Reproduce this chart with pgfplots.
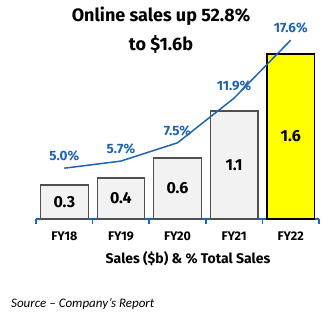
\documentclass[border=0pt]{standalone}
\usepackage{pgfplots}
\pgfplotsset{compat=1.18}
\usepackage{pgfplotstable}
\usepackage{fontspec}
\setmainfont{Fira Sans}
\newfontfamily\srcfont{Carlito}
\definecolor{lineblue}{HTML}{1F64B0}
\definecolor{barfill}{HTML}{F2F2F2}
\definecolor{baredge}{HTML}{505050}
\definecolor{hl}{HTML}{FFFF00}

\pgfplotstableread{
x y label
0 0.34 0.3
1 0.41 0.4
2 0.61 0.6
3 1.08 1.1
}\salesdata
\pgfplotstableread{
x y label
4 1.65 1.6
}\hldata
\pgfplotstableread{
x y label
0 5.0 5.0
1 5.7 5.7
2 7.5 7.5
3 11.9 11.9
4 17.6 17.6
}\pctdata

\begin{document}
\begin{tikzpicture}
\path[use as bounding box] (0,0) rectangle (334pt,317pt);
\begin{axis}[
  at={(36pt,98pt)}, anchor=south west, scale only axis,
  width=283pt, height=190pt,
  xmin=-0.5, xmax=4.5, ymin=0, ymax=1.9,
  axis y line=none, axis x line*=bottom,
  x axis line style={lineblue, line width=1.5pt, -},
  xtick={0,...,4}, xticklabels={FY18,FY19,FY20,FY21,FY22},
  major tick length=0pt,
  minor xtick={-0.5,0.5,...,4.5},
  minor tick length=5pt, tick align=outside,
  minor x tick style={lineblue, line width=1.5pt},
  xticklabel style={font=\bfseries\fontsize{12.5}{14}\selectfont, yshift=-9pt},
  ybar, bar width=47.6pt, bar shift=0pt,
  clip=false,
  visualization depends on={\thisrow{y} \as \rawy},
  nodes near coords, point meta=explicit symbolic,
  every node near coord/.append style={anchor=center, shift={(axis direction cs:0,-\rawy/2)}, font=\bfseries\fontsize{16}{18}\selectfont, text=black},
]
\addplot[fill=barfill, draw=baredge, line width=1.2pt] table[x=x,y=y,meta=label]{\salesdata};
\addplot[fill=hl, draw=black, line width=1.2pt] table[x=x,y=y,meta=label]{\hldata};
\end{axis}
\begin{axis}[
  at={(36pt,98pt)}, anchor=south west, scale only axis,
  width=283pt, height=190pt,
  xmin=-0.5, xmax=4.5, ymin=0, ymax=18.7,
  hide axis, clip=false,
]
\addplot[lineblue, line width=1.5pt, mark=none,
  nodes near coords={\pgfplotspointmeta\%}, point meta=explicit symbolic,
  nodes near coords style={anchor=south, yshift=3pt, text=lineblue, font=\bfseries\fontsize{13.5}{15}\selectfont}]
  table[x=x,y=y,meta=label]{\pctdata};
\end{axis}
\node[font=\bfseries\fontsize{18}{29}\selectfont, align=center] at (161pt,286.5pt) {Online sales up 52.8\%\\to \$1.6b};
\node[font=\bfseries\fontsize{14}{16}\selectfont] at (188pt,58pt) {Sales (\$b) \& \% Total Sales};
\node[font=\srcfont\itshape\fontsize{13}{15}\selectfont, anchor=west, inner sep=0pt] at (11pt,13pt) {Source – Company’s Report};
\end{tikzpicture}
\end{document}
